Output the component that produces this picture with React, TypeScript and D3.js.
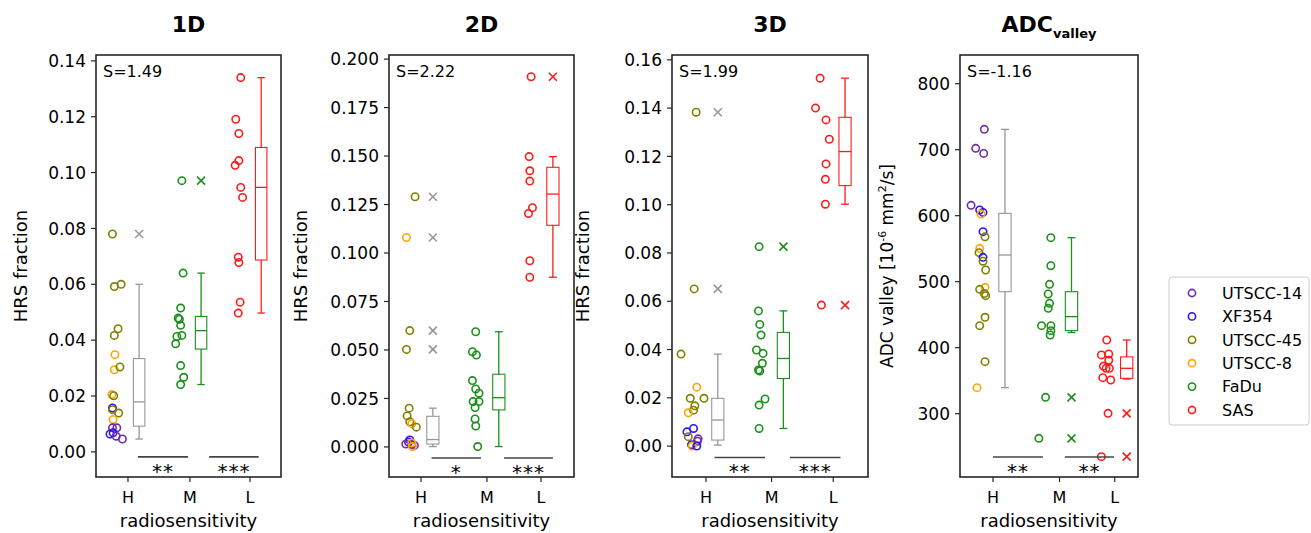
import React from "react";
import * as d3 from "d3";

// ---------- data ----------
const cellLines = ["UTSCC-14", "XF354", "UTSCC-45", "UTSCC-8", "FaDu", "SAS"];
const lineColors = ["#6f2da8", "#2d14f5", "#808000", "#ffa500", "#1a8f1a", "#ff1a1a"];
const categories = ["H", "M", "L"];
const boxColors = ["#979797", "#1a8f1a", "#ff1a1a"];
const titles = ["1D", "2D", "3D", "ADC"];
const sLabels = ["S=1.49", "S=2.22", "S=1.99", "S=-1.16"];

// points: [value, cellLineIndex, jitter offset from category]
const p1H = [[0.078,2,-0.25],[0.0592,2,-0.22],[0.060,2,-0.11],[0.0441,2,-0.16],[0.0417,2,-0.22],[0.0348,3,-0.21],[0.0294,3,-0.22],[0.0304,2,-0.13],[0.0205,3,-0.26],[0.0201,2,-0.23],[0.0157,1,-0.25],[0.0151,2,-0.25],[0.0139,2,-0.15],[0.0116,3,-0.24],[0.0086,0,-0.25],[0.0086,0,-0.18],[0.0064,1,-0.29],[0.0068,1,-0.24],[0.0056,0,-0.19],[0.0046,0,-0.09]];
const p1M = [[0.0971,4,-0.13],[0.064,4,-0.11],[0.0515,4,-0.15],[0.0479,4,-0.19],[0.0475,4,-0.17],[0.0453,4,-0.15],[0.0417,4,-0.13],[0.0413,4,-0.21],[0.0387,4,-0.23],[0.0309,4,-0.15],[0.0267,4,-0.10],[0.0241,4,-0.15]];
const p1L = [[0.134,5,-0.15],[0.1191,5,-0.23],[0.114,5,-0.18],[0.1043,5,-0.18],[0.1026,5,-0.24],[0.0947,5,-0.15],[0.0911,5,-0.12],[0.0697,5,-0.19],[0.0678,5,-0.18],[0.0536,5,-0.16],[0.0497,5,-0.19]];

const p2H = [[0.129,2,-0.09],[0.108,3,-0.22],[0.060,2,-0.17],[0.0503,2,-0.22],[0.0200,2,-0.18],[0.0160,2,-0.21],[0.0130,2,-0.17],[0.0120,3,-0.14],[0.0102,2,-0.07],[0.0036,1,-0.17],[0.0025,1,-0.19],[0.0015,0,-0.23],[0.0014,1,-0.14],[0.0008,0,-0.10],[0.0020,3,-0.14],[0.0002,3,-0.13]];
const p2M = [[0.0594,4,-0.17],[0.0491,4,-0.22],[0.0474,4,-0.16],[0.0342,4,-0.22],[0.0299,4,-0.17],[0.0277,4,-0.12],[0.0234,4,-0.21],[0.0234,4,-0.12],[0.0203,4,-0.18],[0.0144,4,-0.18],[0.0108,4,-0.17],[0.0002,4,-0.14]];
const p2L = [[0.1909,5,-0.15],[0.1497,5,-0.18],[0.1424,5,-0.17],[0.1371,5,-0.17],[0.1234,5,-0.13],[0.1204,5,-0.19],[0.096,5,-0.17],[0.0875,5,-0.17]];

const p3H = [[0.1383,2,-0.15],[0.0651,2,-0.18],[0.0381,2,-0.38],[0.0244,3,-0.14],[0.0198,2,-0.24],[0.0198,2,-0.03],[0.0167,2,-0.17],[0.0149,2,-0.19],[0.0138,3,-0.27],[0.0073,1,-0.19],[0.0059,1,-0.29],[0.0039,2,-0.27],[0.0030,0,-0.12],[0.0020,0,-0.13],[0.0006,1,-0.22],[0.0,3,-0.21],[0.0,1,-0.14]];
const p3M = [[0.0826,4,-0.19],[0.056,4,-0.20],[0.0504,4,-0.18],[0.046,4,-0.16],[0.0398,4,-0.23],[0.0384,4,-0.13],[0.0343,4,-0.14],[0.0315,4,-0.20],[0.0311,4,-0.18],[0.0195,4,-0.10],[0.017,4,-0.19],[0.0073,4,-0.19]];
const p3L = [[0.1524,5,-0.20],[0.14,5,-0.27],[0.1351,5,-0.11],[0.1271,5,-0.06],[0.1169,5,-0.11],[0.1105,5,-0.12],[0.1002,5,-0.12],[0.0584,5,-0.18]];

const p4H = [[730.8,0,-0.13],[702,0,-0.26],[694.4,0,-0.14],[615.7,0,-0.33],[608.6,1,-0.20],[605,1,-0.15],[602.5,3,-0.18],[575.8,1,-0.15],[568,2,-0.12],[550.5,3,-0.20],[544,2,-0.21],[536.9,1,-0.15],[531,2,-0.15],[517.7,2,-0.11],[491.4,3,-0.12],[488.4,2,-0.20],[482,2,-0.13],[478.8,2,-0.11],[446,2,-0.12],[433.3,2,-0.20],[378.8,2,-0.12],[339.4,3,-0.24]];
const p4M = [[566.7,4,-0.13],[524.2,4,-0.13],[496,4,-0.15],[481.3,4,-0.17],[467.2,4,-0.15],[459.6,4,-0.17],[433.3,4,-0.27],[433.3,4,-0.13],[425.8,4,-0.13],[419.2,4,-0.14],[324.7,4,-0.21],[262.6,4,-0.31]];
const p4L = [[411.6,5,-0.12],[390.4,5,-0.09],[389,5,-0.20],[381,5,-0.09],[372,5,-0.17],[368.7,5,-0.13],[368.7,5,-0.08],[354.5,5,-0.18],[351,5,-0.06],[300.5,5,-0.10],[234.8,5,-0.20]];

// box stats: [whiskerLow, q1, median, q3, whiskerHigh] for H, M, L
const box1 = [[0.0046,0.0092,0.0179,0.0334,0.060],[0.0241,0.0368,0.0434,0.0485,0.064],[0.0497,0.0687,0.0947,0.109,0.134]];
const box2 = [[0.0002,0.0015,0.0038,0.0158,0.0200],[0.0002,0.0191,0.0254,0.0375,0.0594],[0.0875,0.1143,0.1304,0.1442,0.1497]];
const box3 = [[0.0004,0.0025,0.0108,0.0198,0.0381],[0.0073,0.028,0.0363,0.0471,0.056],[0.1002,0.1079,0.122,0.1362,0.1524]];
const box4 = [[339.4,484.8,540.4,603.5,730.8],[423,425.8,447,484.8,566.7],[352.5,353.5,368.7,386,411.6]];

// outliers (x markers) for H, M, L
const out1 = [[0.078],[0.0971],[]];
const out2 = [[0.129,0.108,0.060,0.0503],[],[0.1909]];
const out3 = [[0.1383,0.0651],[0.0826],[0.0584]];
const out4 = [[],[324.7,262.6],[300.5,234.8]];

// category positions on each panel's x axis
const cat1 = [1, 2, 2.97];
const cat2 = [1, 2, 2.82];
const cat3 = [1, 2, 2.94];
const cat4 = [1, 2, 2.83];
const xDom1 = [0.484, 3.47];
const xDom2 = [0.515, 3.32];
const xDom3 = [0.482, 3.47];
const xDom4 = [0.504, 3.18];

// y domains and ticks
const yDom1 = [-0.009, 0.1421];
const yDom2 = [-0.0155, 0.2021];
const yDom3 = [-0.0128, 0.162];
const yDom4 = [204, 843.5];
const ticks1 = [0, 0.02, 0.04, 0.06, 0.08, 0.10, 0.12, 0.14];
const ticks2 = [0, 0.025, 0.05, 0.075, 0.1, 0.125, 0.15, 0.175, 0.2];
const ticks3 = [0, 0.02, 0.04, 0.06, 0.08, 0.10, 0.12, 0.14, 0.16];
const ticks4 = [300, 400, 500, 600, 700, 800];

// significance bars: [xStart, xEnd, y, label]
const sig1 = [[1.16, 1.97, -0.0018, "**"], [2.31, 3.11, -0.0018, "***"]];
const sig2 = [[1.16, 1.91, -0.0057, "*"], [2.26, 3.0, -0.0057, "***"]];
const sig3 = [[1.13, 1.90, -0.0047, "**"], [2.28, 3.05, -0.0047, "***"]];
const sig4 = [[1.0, 1.75, 234.4, "**"], [2.08, 2.82, 234.4, "**"]];

// ---------- layout ----------
const W = 1311, H = 533;
const TOP = 55, BOTTOM = 477;
const frames = [[96, 281], [389, 574], [672, 868], [960, 1138]];
const yLabelX = [21, 301, 583, 887];
const FONT = "DejaVu Sans, sans-serif";

const panels = [
  { pts: [p1H, p1M, p1L], box: box1, out: out1, cat: cat1, xd: xDom1, yd: yDom1, ticks: ticks1, fmt: ".2f", sig: sig1 },
  { pts: [p2H, p2M, p2L], box: box2, out: out2, cat: cat2, xd: xDom2, yd: yDom2, ticks: ticks2, fmt: ".3f", sig: sig2 },
  { pts: [p3H, p3M, p3L], box: box3, out: out3, cat: cat3, xd: xDom3, yd: yDom3, ticks: ticks3, fmt: ".2f", sig: sig3 },
  { pts: [p4H, p4M, p4L], box: box4, out: out4, cat: cat4, xd: xDom4, yd: yDom4, ticks: ticks4, fmt: "d", sig: sig4 },
];

const BOX_OFF = 0.18;
const BOX_W = 0.185;
const CAP_W = 0.12;

function Panel({ p, i }: { p: any; i: number }) {
  const [x0, x1] = frames[i];
  const x = d3.scaleLinear().domain(p.xd).range([x0, x1]);
  const y = d3.scaleLinear().domain(p.yd).range([BOTTOM, TOP]);
  const fmt = d3.format(p.fmt);
  const cx = (x0 + x1) / 2;
  return (
    <g>
      {i < 3 ? (
        <text x={cx} y={32} textAnchor="middle" fontFamily={FONT} fontWeight="bold" fontSize={22}>{titles[i]}</text>
      ) : (
        <text x={cx} y={32} textAnchor="middle" fontFamily={FONT} fontWeight="bold" fontSize={22}>
          {titles[i]}<tspan fontSize={13} dy={6}>valley</tspan>
        </text>
      )}
      {p.pts.map((arr: number[][], ci: number) =>
        arr.map((d, k) => (
          <circle key={`p${ci}-${k}`} cx={x(p.cat[ci] + d[2])} cy={y(d[0])} r={3.7}
            fill="none" stroke={lineColors[d[1]]} strokeWidth={1.6} />
        ))
      )}
      {p.box.map((b: number[], ci: number) => {
        const bx = x(p.cat[ci] + BOX_OFF);
        const hw = (x(BOX_W) - x(0)) / 2;
        const cw = (x(CAP_W) - x(0)) / 2;
        const c = boxColors[ci];
        return (
          <g key={`b${ci}`} stroke={c} strokeWidth={1.3} fill="none">
            <line x1={bx} x2={bx} y1={y(b[0])} y2={y(b[1])} />
            <line x1={bx} x2={bx} y1={y(b[3])} y2={y(b[4])} />
            <line x1={bx - cw} x2={bx + cw} y1={y(b[0])} y2={y(b[0])} />
            <line x1={bx - cw} x2={bx + cw} y1={y(b[4])} y2={y(b[4])} />
            <rect x={bx - hw} y={y(b[3])} width={2 * hw} height={y(b[1]) - y(b[3])} strokeWidth={1.1} />
            <line x1={bx - hw} x2={bx + hw} y1={y(b[2])} y2={y(b[2])} />
          </g>
        );
      })}
      {p.out.map((arr: number[], ci: number) =>
        arr.map((v, k) => {
          const ox = x(p.cat[ci] + BOX_OFF);
          const oy = y(v);
          const s = 4;
          return (
            <g key={`o${ci}-${k}`} stroke={boxColors[ci]} strokeWidth={1.6}>
              <line x1={ox - s} x2={ox + s} y1={oy - s} y2={oy + s} />
              <line x1={ox - s} x2={ox + s} y1={oy + s} y2={oy - s} />
            </g>
          );
        })
      )}
      {p.sig.map((s: any[], k: number) => (
        <g key={`s${k}`}>
          <line x1={x(s[0])} x2={x(s[1])} y1={y(s[2])} y2={y(s[2])} stroke="#444" strokeWidth={1.6} />
          <text x={(x(s[0]) + x(s[1])) / 2} y={y(s[2]) + 21} textAnchor="middle" fontFamily={FONT} fontSize={20} letterSpacing={1}>{s[3]}</text>
        </g>
      ))}
      <rect x={x0} y={TOP} width={x1 - x0} height={BOTTOM - TOP} fill="none" stroke="#262626" strokeWidth={1.6} />
      {p.ticks.map((t: number) => (
        <g key={`yt${t}`}>
          <line x1={x0 - 5} x2={x0} y1={y(t)} y2={y(t)} stroke="#262626" strokeWidth={1.2} />
          <text x={x0 - 10} y={y(t)} dy="0.36em" textAnchor="end" fontFamily={FONT} fontSize={17}>{fmt(t)}</text>
        </g>
      ))}
      {p.cat.map((c: number, ci: number) => (
        <g key={`xt${ci}`}>
          <line x1={x(c)} x2={x(c)} y1={BOTTOM} y2={BOTTOM + 5} stroke="#262626" strokeWidth={1.2} />
          <text x={x(c)} y={503} textAnchor="middle" fontFamily={FONT} fontSize={16}>{categories[ci]}</text>
        </g>
      ))}
      <text x={cx} y={527} textAnchor="middle" fontFamily={FONT} fontSize={18}>radiosensitivity</text>
      <text x={x0 + 7} y={77} fontFamily={FONT} fontSize={16}>{sLabels[i]}</text>
      <g transform={`translate(${yLabelX[i]},${(TOP + BOTTOM) / 2}) rotate(-90)`}>
        {i < 3 ? (
          <text textAnchor="middle" dy="0.35em" fontFamily={FONT} fontSize={18}>HRS fraction</text>
        ) : (
          <text textAnchor="middle" dy="0.35em" fontFamily={FONT} fontSize={17}>
            ADC valley [10<tspan fontSize={11} dy={-7}>-6</tspan><tspan dy={7}> mm</tspan><tspan fontSize={11} dy={-7}>2</tspan><tspan dy={7}>/s]</tspan>
          </text>
        )}
      </g>
    </g>
  );
}

function Legend() {
  const lx = 1169, ly = 277, lw = 140, lh = 148;
  const rowY = d3.scaleLinear().domain([0, 5]).range([293, 410]);
  return (
    <g>
      <rect x={lx} y={ly} width={lw} height={lh} rx={3} fill="white" stroke="#cccccc" strokeWidth={1} />
      {cellLines.map((name, k) => (
        <g key={name}>
          <circle cx={1192} cy={rowY(k)} r={3.6} fill="none" stroke={lineColors[k]} strokeWidth={1.6} />
          <text x={1222} y={rowY(k)} dy="0.36em" fontFamily={FONT} fontSize={16}>{name}</text>
        </g>
      ))}
    </g>
  );
}

export default function App() {
  return (
    <svg width={W} height={H} style={{ position: "absolute", left: 0, top: 0, display: "block", background: "white" }}>
      {panels.map((p, i) => <Panel key={i} p={p} i={i} />)}
      <Legend />
    </svg>
  );
}
